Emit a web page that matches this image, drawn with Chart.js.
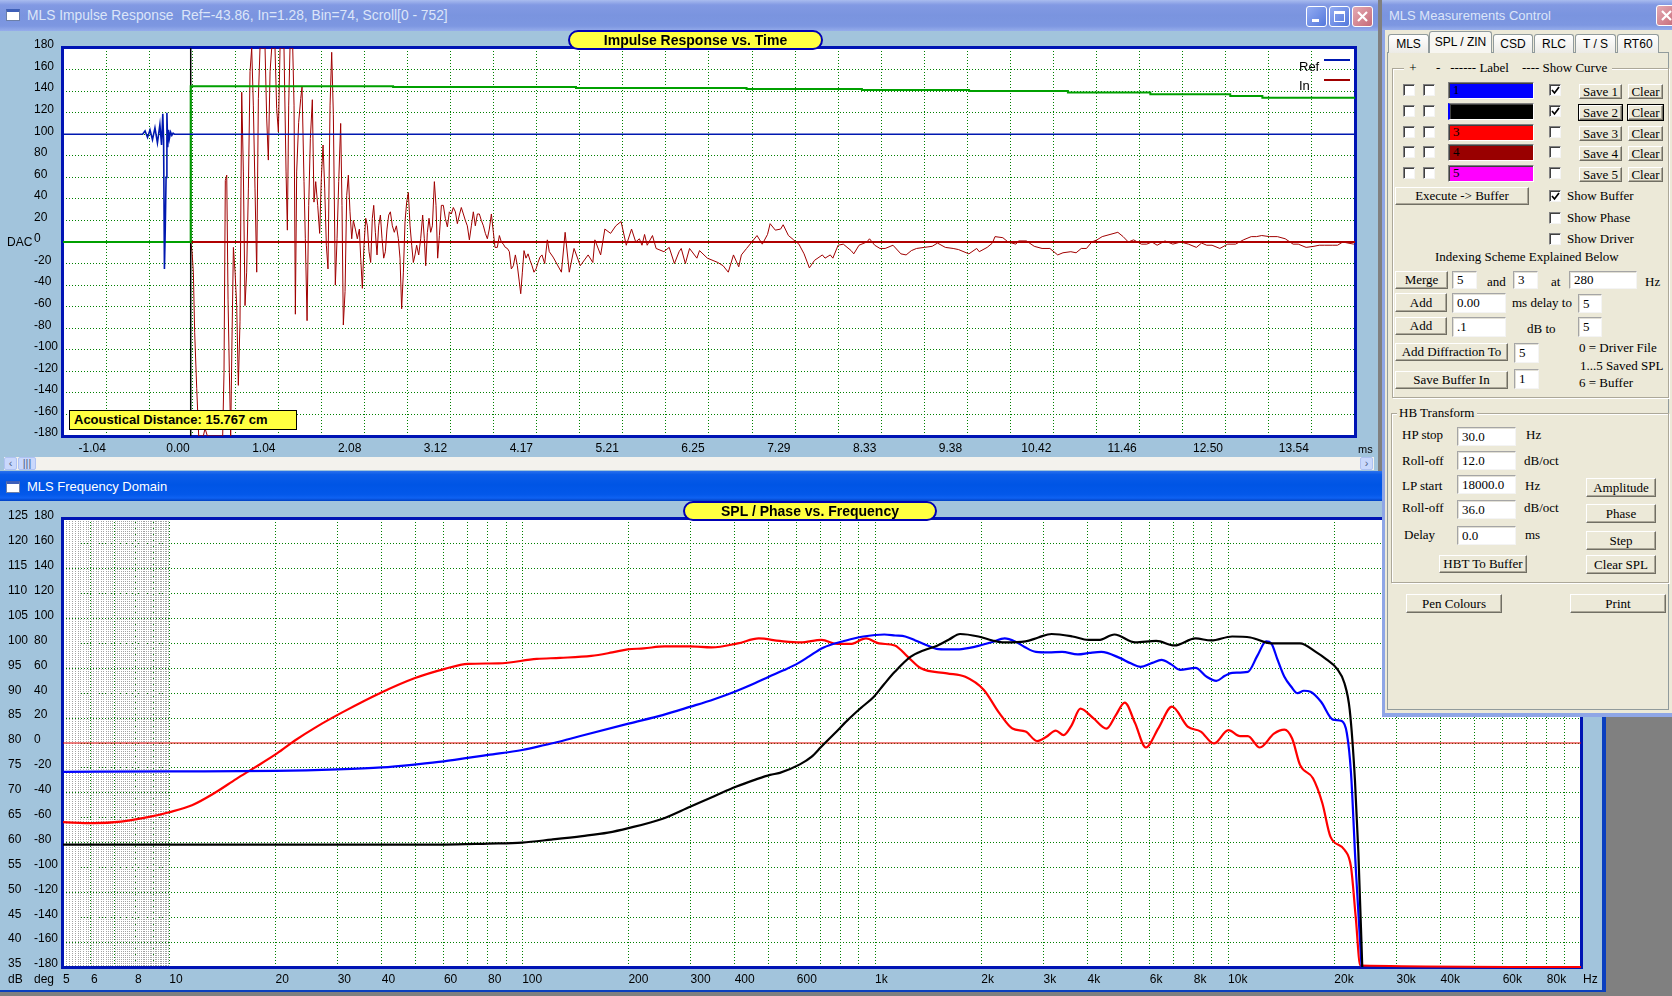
<!DOCTYPE html>
<html lang="en">
<head>
<meta charset="utf-8">
<title>MLS Impulse Response / Frequency Domain</title>
<script src="https://cdn.jsdelivr.net/npm/chart.js@4.4.0/dist/chart.umd.min.js"></script>
<style>
  html, body { margin: 0; padding: 0; }
  body { position: relative; width: 1672px; height: 996px; overflow: hidden; background: #808080;
         font-family: 'Liberation Sans', Arial, sans-serif; }
  .abs { position: absolute; }
  .win { position: absolute; background: #A2C4DC; }
  .cap { position: absolute; left: 0; right: 0; top: 0; height: 31px; }
  .cap.off { background: linear-gradient(#A9BCEF 0%, #8299E3 16%, #7A94DF 50%, #7D97E1 84%, #96ADEB 100%); }
  .cap.on { background: linear-gradient(#2B71EC 0%, #0A5BE8 12%, #0055E5 45%, #0358EA 78%, #0F62F2 90%, #0041C4 100%); }
  .cap .txt { position: absolute; left: 27px; top: 0; line-height: 31px; font-size: 13px; white-space: pre; }
  .cap.off .txt { color: #DCE5F9; }
  .cap.on .txt { color: #fff; }
  .wico { position: absolute; left: 6px; top: 9px; width: 14px; height: 12px; box-sizing: border-box; background: #fff;
          border: 1px solid #6C7FA8; border-top: 3px solid #3E5FB8; }
  .tbtn { position: absolute; top: 6px; width: 21px; height: 21px; box-sizing: border-box; border: 1px solid #fff;
          border-radius: 3px; background: linear-gradient(135deg, #93ACF2, #5478DC); }
  .tbtn.x { background: linear-gradient(135deg, #E4AAB3, #C66A78); }
  .tbtn svg { position: absolute; left: 0; top: 0; }
  .chip { position: absolute; box-sizing: border-box; height: 20px; border: 2px solid #0000B4; border-radius: 10px;
          background: #FFFF40; font-weight: bold; font-size: 14px; line-height: 16px; text-align: center; color: #000; white-space: nowrap; }
  .note { position: absolute; font-size: 12px; color: #000; white-space: nowrap; line-height: 14px; }
  .sbb { position: absolute; box-sizing: border-box; width: 13px; height: 13px; background: #C9D8FC; border: 1px solid #AFC2F2;
         border-radius: 2px; font-size: 11px; line-height: 10px; color: #4D6185; text-align: center; }
  canvas { position: absolute; }

  /* control panel */
  #panel { position: absolute; left: 1382px; top: 0; width: 290px; height: 717px; background: #ECE9D8; overflow: hidden; }
  #panel .t { position: absolute; font: 13px 'Liberation Serif', 'Times New Roman', serif; line-height: 16px; white-space: nowrap; color: #000; }
  #panel .t.hb { background: #ECE9D8; padding: 0 2px; }
  #panel .b { position: absolute; box-sizing: border-box; background: #ECE9D8; border: 1px solid;
              border-color: #FFFFFF #716F64 #716F64 #FFFFFF; box-shadow: inset -1px -1px 0 #ACA899;
              display: flex; align-items: center; justify-content: center;
              font: 13px 'Liberation Serif', 'Times New Roman', serif; white-space: nowrap; color: #000; }
  #panel .b.f { outline: 1px solid #000; }
  #panel .i { position: absolute; box-sizing: border-box; background: #fff; border: 1px solid;
              border-color: #A5A5A5 #F4F4F4 #F4F4F4 #A5A5A5; box-shadow: inset 1px 1px 0 #E2E0D6;
              display: flex; align-items: center; padding-left: 4px;
              font: 13px 'Liberation Serif', 'Times New Roman', serif; white-space: nowrap; }
  #panel .c { position: absolute; box-sizing: border-box; width: 12px; height: 12px; background: #fff; border: 1px solid;
              border-color: #808080 #F4F4F4 #F4F4F4 #808080; box-shadow: inset 1px 1px 0 #404040; }
  #panel .c svg { position: absolute; left: 1px; top: 1px; }
  #panel .sw { position: absolute; box-sizing: border-box; border: 1px solid; border-color: #808080 #fff #fff #808080;
               box-shadow: inset 1px 1px 0 #404040; font: 13px 'Liberation Serif', serif; line-height: 14px; padding-left: 4px; }
  #panel .g { position: absolute; box-sizing: border-box; border: 1px solid #ACA899; box-shadow: inset 1px 1px 0 #fff, 1px 1px 0 #fff; }
  #panel .tp { position: absolute; box-sizing: border-box; border: 1px solid #919B9C; background: #ECE9D8; }
  #panel .tab { position: absolute; box-sizing: border-box; height: 19px; border: 1px solid #919B9C; border-bottom: none;
                border-radius: 3px 3px 0 0; background: linear-gradient(#FFFFFF, #ECEBE6); font-size: 12px; line-height: 18px;
                text-align: center; color: #000; white-space: nowrap; }
  #panel .tab.sel { height: 22px; background: #F7F6F1; line-height: 20px; }
</style>
</head>
<body>

<!-- top window: MLS Impulse Response -->
<div class="win" style="left:0;top:0;width:1378px;height:471px;">
  <div class="cap off">
    <div class="wico"></div>
    <span class="txt" style="font-size:13.8px;">MLS Impulse Response  Ref=-43.86, In=1.28, Bin=74, Scroll[0 - 752]</span>
    <div class="tbtn" style="left:1306px;"><svg width="19" height="19"><rect x="5" y="12" width="7" height="3" fill="#fff"/></svg></div>
    <div class="tbtn" style="left:1329px;"><svg width="19" height="19"><rect x="4.5" y="4.5" width="10" height="10" fill="none" stroke="#fff"/><rect x="4" y="4" width="11" height="3" fill="#fff"/></svg></div>
    <div class="tbtn x" style="left:1352px;"><svg width="19" height="19"><path d="M5 5 L14 14 M14 5 L5 14" stroke="#fff" stroke-width="2.2"/></svg></div>
  </div>
  <div class="abs" style="left:4px;top:457px;width:1370px;height:13px;background:#F3F2ED;"></div>
  <div class="sbb" style="left:4px;top:457px;">&lsaquo;</div>
  <div class="sbb" style="left:18px;top:457px;width:18px;">|||</div>
  <div class="sbb" style="left:1360px;top:457px;">&rsaquo;</div>
</div>

<!-- bottom window: MLS Frequency Domain -->
<div class="win" style="left:0;top:471px;width:1606px;height:521px;">
  <div class="cap on" style="height:30px;">
    <div class="wico" style="top:10px;"></div>
    <span class="txt" style="line-height:32px;">MLS Frequency Domain</span>
  </div>
  <div class="abs" style="left:1602px;top:30px;width:4px;height:491px;background:#0A3FBF;"></div>
  <div class="abs" style="left:0;top:519px;width:1606px;height:2px;background:#0A3FBF;"></div>
</div>

<canvas id="irChart" width="1378" height="424" style="left:0;top:32px;"></canvas>
<canvas id="splChart" width="1600" height="487" style="left:0;top:505px;"></canvas>

<div class="chip" style="left:568px;top:30px;width:255px;">Impulse Response vs. Time</div>
<div class="chip" style="left:683px;top:501px;width:254px;">SPL / Phase vs. Frequency</div>

<div class="abs" style="left:69px;top:410px;width:228px;height:20px;box-sizing:border-box;border:1px solid #000;background:#FFFF40;
     font-weight:bold;font-size:13px;line-height:18px;padding-left:4px;white-space:nowrap;">Acoustical Distance: 15.767 cm</div>

<div class="note" style="left:1299px;top:60px;font-size:13px;">Ref</div>
<div class="abs" style="left:1324px;top:59px;width:26px;height:2px;background:#0018B0;"></div>
<div class="note" style="left:1299px;top:79px;font-size:13px;">In</div>
<div class="abs" style="left:1324px;top:79px;width:26px;height:2px;background:#A00000;"></div>

<div class="note" style="left:7px;top:235px;">DAC</div>
<div class="note" style="left:1358px;top:442px;font-size:11px;">ms</div>
<div class="note" style="left:8px;top:972px;">dB</div>
<div class="note" style="left:34px;top:972px;">deg</div>
<div class="note" style="left:1583px;top:972px;">Hz</div>

<!-- control panel -->
<div id="panel">
  <div class="cap off" style="height:30px;">
    <span class="txt" style="left:7px;line-height:32px;">MLS Measurements Control</span>
    <div class="tbtn x" style="left:274px;top:5px;"><svg width="19" height="19"><path d="M5 5 L14 14 M14 5 L5 14" stroke="#fff" stroke-width="2.2"/></svg></div>
  </div>
  <div class="abs" style="left:0;top:30px;width:3px;height:687px;background:#8FA6E6;"></div>
  <div class="abs" style="left:0;top:713px;width:290px;height:4px;background:#8FA6E6;"></div>
</div>

<script>
// ---------- impulse response (time domain) ----------
const impulseMs = [
  0.154, 0.170, 0.186, 0.202, 0.227, 0.251, 0.307, 0.328, 0.356, 0.542,
  0.558, 0.574, 0.591, 0.607, 0.623, 0.639, 0.655, 0.672, 0.692, 0.712,
  0.732, 0.752, 0.773, 0.793, 0.813, 0.833, 0.854, 0.874, 0.894, 0.914,
  0.934, 0.955, 0.975, 0.995, 1.056, 1.076, 1.096, 1.117, 1.137, 1.177,
  1.197, 1.218, 1.238, 1.286, 1.311, 1.327, 1.343, 1.359, 1.392, 1.408,
  1.424, 1.440, 1.464, 1.489, 1.505, 1.529, 1.545, 1.566, 1.586, 1.606,
  1.630, 1.650, 1.671, 1.695, 1.719, 1.739, 1.760, 1.780, 1.800, 1.820,
  1.845, 1.865, 1.885, 1.909, 1.930, 1.950, 1.974, 1.990, 2.006, 2.027,
  2.047, 2.067, 2.087, 2.108, 2.128, 2.152, 2.176, 2.201, 2.217, 2.237,
  2.257, 2.278, 2.298, 2.318, 2.338, 2.358, 2.375, 2.395, 2.415, 2.435,
  2.456, 2.476, 2.496, 2.516, 2.536, 2.557, 2.577, 2.601, 2.625, 2.650,
  2.674, 2.694, 2.714, 2.735, 2.755, 2.775, 2.795, 2.816, 2.836, 2.856,
  2.876, 2.896, 2.921, 2.945, 2.969, 2.989, 3.006, 3.026, 3.046, 3.066,
  3.087, 3.111, 3.131, 3.151, 3.172, 3.196, 3.220, 3.244, 3.269, 3.293,
  3.317, 3.341, 3.366, 3.390, 3.414, 3.438, 3.463, 3.487, 3.511, 3.536,
  3.560, 3.584, 3.608, 3.633, 3.657, 3.681, 3.706, 3.730, 3.754, 3.778,
  3.803, 3.827, 3.847, 3.875, 3.900, 3.924, 3.948, 3.972, 3.997, 4.021,
  4.045, 4.070, 4.094, 4.118, 4.142, 4.159, 4.179, 4.199, 4.223, 4.248,
  4.272, 4.296, 4.320, 4.345, 4.369, 4.393, 4.417, 4.450, 4.482, 4.506,
  4.552, 4.653, 4.698, 4.748, 4.806, 4.882, 4.977, 5.034, 5.059, 5.129,
  5.180, 5.250, 5.313, 5.377, 5.440, 5.504, 5.555, 5.599, 5.631, 5.662,
  5.694, 5.758, 5.802, 5.897, 5.961, 6.024, 6.081, 6.107, 6.157, 6.208,
  6.297, 6.329, 6.424, 6.551, 6.615, 6.678, 6.741, 6.805, 6.837, 6.900,
  6.964, 7.027, 7.091, 7.154, 7.186, 7.249, 7.313, 7.344, 7.408, 7.471,
  7.535, 7.598, 7.662, 7.725, 7.820, 7.852, 7.916, 7.947, 8.011, 8.074,
  8.169, 8.201, 8.265, 8.360, 8.392, 8.455, 8.519, 8.582, 8.677, 8.773,
  8.836, 8.900, 8.963, 9.058, 9.153, 9.217, 9.312, 9.407, 9.471, 9.598,
  9.693, 9.724, 9.820, 9.883, 9.915, 10.010, 10.074, 10.169, 10.200, 10.296,
  10.391, 10.486, 10.581, 10.676, 10.740, 10.835, 10.899, 10.962, 11.025, 11.089,
  11.153, 11.216, 11.311, 11.406, 11.470, 11.533, 11.597, 11.692, 11.756, 11.819,
  11.883, 11.978, 12.073, 12.168, 12.263, 12.359, 12.422, 12.485, 12.549, 12.644,
  12.739, 12.834, 12.930, 13.025, 13.088, 13.152, 13.247, 13.342, 13.437, 13.533,
  13.596, 13.691, 13.786, 13.850, 13.913, 14.008, 14.072, 14.135, 14.199, 14.270
];
const impulseDac = [
  0, -9, -28, -84, -136, -180, -180, -173, -180, -180,
  -121, 57, 62, -53, -121, -180, -90, -5, -28, -59,
  -133, -74, 139, 65, -59, -28, 50, 158, 180, 127,
  50, -28, 133, 180, 180, 115, 76, 158, 180, 180,
  124, 102, 180, 180, 65, 11, 127, 180, 180, 127,
  -67, 65, 111, 133, 144, 56, 3, -73, 34, 96,
  132, 37, 56, 34, 8, 59, 90, 50, -3, -25,
  127, 176, 118, -40, 3, 56, 110, 34, -77, -46,
  43, 62, 28, 3, 20, 12, 3, 12, -15, -43,
  -3, 22, 15, -9, -19, 22, 34, 9, -12, 15,
  25, 3, -15, -9, 12, 25, 28, 15, 9, 15,
  3, -15, -62, -28, 19, 37, 46, 15, -3, -19,
  -12, -3, -12, 3, 25, 3, -22, 9, 22, 9,
  15, 56, 34, -15, 6, 34, 34, 22, 14, 28,
  26, 32, 28, 17, 25, 32, 26, 20, 15, 2,
  15, 28, 15, 26, 26, 20, 15, 8, 3, 12,
  26, 9, -5, -5, 6, 0, -2, -5, -6, -9,
  -25, -22, -12, -22, -37, -48, -28, -8, -15, -11,
  -17, -22, -28, -25, -19, -14, -12, -20, 2, -9,
  -14, -28, 9, -28, -6, -22, -12, -19, 2, -12,
  12, 8, 15, 19, -3, 12, 0, 3, -3, 7,
  -3, 6, -6, -9, -5, -20, -9, -6, -20, -6,
  -15, -8, -15, -19, -22, -28, -12, -23, -12, -6,
  0, 6, -2, 7, 17, 11, 12, 16, 6, 2,
  -2, -11, -24, -17, -12, -15, -12, -15, -3, -2,
  -8, -11, -3, 0, 3, -3, -6, -6, -3, -11,
  -12, -8, -6, -5, -4, -1, -5, -6, -7, -11,
  -6, -9, -5, -1, 5, 4, 0, -2, 1, 1,
  -4, -6, -6, -12, -10, -9, -10, -6, -6, 0,
  2, 5, 7, 9, 5, 0, 2, -2, -2, 0,
  -3, 1, -2, 0, -2, -5, -1, -3, -3, -6,
  -2, -2, 2, 5, 5, 6, 5, 5, 3, -2,
  -2, -5, -4, -3, -3, -3, -3, 0, -1, -2
];
// reference (loopback) channel
const refMs  = [-1.396, -0.43, -0.40, -0.37, -0.34, -0.31, -0.28, -0.25, -0.22, -0.20, -0.185, -0.175, -0.165,
                -0.155, -0.145, -0.135, -0.125, -0.115, -0.105, -0.09, -0.075, -0.06, -0.045, 0.40, 14.284];
const refDac = [100, 100, 103, 97, 104, 95, 106, 92, 109, 90, 119, 95, -25,
                12, 60, 120, 88, 104, 96, 102, 99, 101, 100, 100, 100];
// green gate trace
const gateMs  = [-1.396, 0.154, 0.154, 2.61, 2.61, 4.83, 4.83, 6.9, 6.9, 8.3, 8.3,
                 9.6, 9.6, 10.8, 10.8, 11.8, 11.8, 12.77, 12.77, 13.16, 13.16, 14.284];
const gateDac = [0, 0, 144.6, 144.6, 143.7, 143.7, 142.8, 142.8, 141.9, 141.9, 141.0,
                 141.0, 140.0, 140.0, 138.7, 138.7, 137.2, 137.2, 135.5, 135.5, 133.9, 133.9];
const markerMs = 0.154;
const timeRange = [-1.396, 14.284];
const timeTickMs = [-1.0417, 0, 1.0417, 2.0833, 3.125, 4.1667, 5.2083, 6.25, 7.2917, 8.3333,
                    9.375, 10.4167, 11.4583, 12.5, 13.5417];
const timeTickLabels = ['-1.04', '0.00', '1.04', '2.08', '3.12', '4.17', '5.21', '6.25', '7.29', '8.33',
                        '9.38', '10.42', '11.46', '12.50', '13.54'];

// ---------- SPL vs frequency ----------
const blueHz = [5, 10, 20, 30, 40, 50, 60, 70, 80, 100,
  116, 128, 150, 200, 250, 300, 350, 400, 456, 500,
  550, 604, 650, 705, 760, 808, 870, 926, 1000, 1062,
  1140, 1217, 1300, 1395, 1493, 1600, 1711, 1850, 1962, 2150,
  2328, 2492, 2650, 2855, 3100, 3386, 3752, 4050, 4374, 4928,
  5300, 5648, 6100, 6477, 6900, 7300, 8087, 8700, 9268, 9800,
  10270, 11380, 12100, 12820, 13260, 13800, 14440, 15100, 15730, 16400,
  17120, 18340, 19830, 21000, 21700, 22300, 23000, 23900];
const blueDb = [74.2, 74.3, 74.4, 74.7, 75.1, 75.7, 76.3, 77.0, 77.6, 78.6,
  79.6, 80.3, 81.6, 83.9, 85.6, 87.3, 88.8, 90.3, 92.0, 93.3,
  94.6, 96.0, 97.4, 99.0, 99.9, 100.4, 101.0, 101.4, 101.7, 101.8,
  101.6, 101.4, 100.6, 99.7, 98.9, 98.8, 98.8, 99.1, 99.5, 100.3,
  101.0, 100.4, 99.3, 98.3, 98.2, 98.3, 97.8, 98.1, 98.3, 97.1,
  96.0, 95.3, 96.1, 96.7, 95.8, 94.7, 95.1, 93.3, 92.5, 93.5,
  94.1, 94.3, 97.5, 100.4, 100.0, 96.8, 93.3, 91.3, 90.0, 90.5,
  90.3, 88.3, 84.7, 84.4, 82.0, 74.0, 55.0, 35.0];
const blackHz = [5, 60, 80, 100, 121, 148, 175, 200, 250, 299,
  350, 403, 460, 504, 537, 612, 660, 705, 770, 836,
  910, 992, 1060, 1137, 1259, 1370, 1493, 1620, 1741, 1962,
  2150, 2328, 2668, 2900, 3162, 3625, 4017, 4301, 4765, 5461,
  6259, 7052, 8087, 8955, 10270, 11570, 13260, 15990, 17720, 19000,
  20310, 21370, 22120, 22880, 23400, 24000];
const blackDb = [59.6, 59.6, 59.8, 60.0, 60.6, 61.3, 62.0, 62.9, 64.8, 67.2,
  69.3, 71.2, 72.7, 73.6, 74.0, 75.7, 77.2, 79.3, 82.0, 84.6,
  87.0, 89.3, 91.8, 94.3, 97.3, 98.6, 99.5, 100.8, 101.9, 101.4,
  100.6, 100.2, 100.4, 101.2, 101.9, 101.4, 100.7, 100.7, 101.8, 100.2,
  100.5, 99.6, 101.0, 100.6, 101.4, 101.2, 100.0, 100.0, 98.3, 96.8,
  95.0, 92.0, 86.6, 72.6, 58.0, 35.0];
const redHz = [5, 6.1, 7.3, 8.7, 10, 11.6, 13.4, 15.5, 17.4, 20.2,
  22.7, 26.2, 31.2, 39.5, 49.5, 60.4, 70.2, 85.7, 110, 128,
  157, 180, 199, 221, 253, 300, 344, 408, 468, 537,
  615, 705, 781, 851, 942, 1025, 1137, 1238, 1348, 1599,
  1801, 2030, 2249, 2449, 2668, 2876, 3050, 3251, 3421, 3600,
  3815, 4150, 4524, 4800, 5097, 5450, 5846, 6350, 6935, 7683,
  8370, 9115, 10024, 10810, 11380, 12300, 13490, 14440, 15190, 15990,
  17400, 18500, 19500, 21400, 22300, 23000, 23700, 100000];
const redDb = [64.1, 63.9, 64.2, 65.1, 66.1, 67.5, 69.9, 72.8, 75.0, 77.9,
  80.5, 83.3, 86.3, 90.0, 93.0, 94.9, 95.9, 96.0, 96.9, 97.1,
  97.5, 98.2, 98.8, 99.0, 99.4, 99.4, 99.2, 100.0, 101.0, 100.5,
  100.2, 100.7, 99.9, 99.9, 101.0, 100.0, 99.6, 97.3, 95.0, 94.0,
  93.3, 90.7, 86.0, 82.9, 82.3, 80.4, 81.2, 82.5, 81.6, 83.5,
  86.9, 85.0, 82.9, 85.5, 88.1, 84.0, 79.1, 83.0, 87.3, 83.3,
  82.3, 79.9, 82.6, 81.4, 81.4, 79.1, 81.9, 82.7, 80.9, 75.6,
  72.9, 67.9, 61.2, 58.5, 55.1, 45.0, 35.3, 35.0];
const phaseZeroDb = 80;          // 0 deg sits on the 80 dB line
const freqRange = [5, 100000];
const freqLabelHz = [5, 6, 8, 10, 20, 30, 40, 60, 80, 100, 200, 300, 400, 600,
  1000, 2000, 3000, 4000, 6000, 8000, 10000, 20000, 30000, 40000, 60000, 80000];
const freqLabelText = ['5', '6', '8', '10', '20', '30', '40', '60', '80', '100', '200', '300', '400', '600',
  '1k', '2k', '3k', '4k', '6k', '8k', '10k', '20k', '30k', '40k', '60k', '80k'];

// ---------- drawing ----------
Chart.defaults.font.family = "'Liberation Sans', Arial, sans-serif";
Chart.defaults.font.size = 12;
Chart.defaults.color = '#000';
Chart.defaults.animation = false;

const GRID_GREEN = '#008000';
const DOTS = [1, 2];

function pairs(xs, ys) {
  return xs.map((x, i) => ({ x: x, y: ys[i] }));
}

// white plot face, blue frame, and the fine low-frequency hatching
const plotFrame = {
  id: 'plotFrame',
  beforeDraw(chart) {
    const a = chart.chartArea, ctx = chart.ctx;
    ctx.save();
    ctx.fillStyle = '#fff';
    ctx.fillRect(a.left, a.top, a.right - a.left, a.bottom - a.top);
    ctx.restore();
  },
  beforeDatasetsDraw(chart, args, opts) {
    const a = chart.chartArea, ctx = chart.ctx;
    ctx.save();
    if (opts.fine) {
      const xs = chart.scales.x;
      ctx.strokeStyle = '#a4a4a4';
      ctx.lineWidth = 1;
      ctx.setLineDash([1, 1]);
      for (let f = 5.1; f < 9.95; f += 0.1) {
        const px = Math.round(xs.getPixelForValue(f)) + 0.5;
        ctx.beginPath();
        ctx.moveTo(px, a.top);
        ctx.lineTo(px, a.bottom);
        ctx.stroke();
      }
    }
    ctx.setLineDash([]);
    ctx.strokeStyle = '#0014B4';
    ctx.lineWidth = 3;
    ctx.strokeRect(a.left - 0.5, a.top - 0.5, a.right - a.left + 1, a.bottom - a.top + 1);
    ctx.restore();
  }
};

new Chart(document.getElementById('irChart'), {
  type: 'line',
  data: {
    datasets: [
      { label: 'Ref', data: pairs(refMs, refDac), borderColor: '#0018B0', borderWidth: 1.6 },
      { label: 'Gate', data: pairs(gateMs, gateDac), borderColor: '#00A000', borderWidth: 2 },
      { label: 'Marker', data: [{ x: markerMs, y: -180 }, { x: markerMs, y: 180 }], borderColor: '#000', borderWidth: 1.5 },
      { label: 'Zero', data: [{ x: markerMs, y: 0 }, { x: timeRange[1], y: 0 }], borderColor: '#B00000', borderWidth: 2 },
      { label: 'In', data: pairs(impulseMs, impulseDac), borderColor: '#A00000', borderWidth: 1 }
    ]
  },
  options: {
    responsive: false,
    elements: { point: { radius: 0 }, line: { tension: 0 } },
    layout: { autoPadding: false, padding: { left: 34, top: 16, right: 23, bottom: 0 } },
    plugins: { legend: { display: false }, tooltip: { enabled: false }, plotFrame: { fine: false } },
    scales: {
      x: {
        type: 'linear', position: 'bottom', min: timeRange[0], max: timeRange[1],
        grid: { display: false, drawTicks: false }, border: { display: false },
        ticks: { autoSkip: false, maxRotation: 0, padding: 5, callback: (v, i) => timeTickLabels[i] },
        afterBuildTicks: s => { s.ticks = timeTickMs.map(v => ({ value: v })); },
        afterFit: s => { s.height = 20; }
      },
      xg: {
        type: 'linear', position: 'bottom', min: timeRange[0], max: timeRange[1],
        ticks: { display: false },
        grid: { color: GRID_GREEN, drawTicks: false },
        border: { display: false, dash: DOTS },
        afterBuildTicks: s => {
          const step = (s.max - s.min) / 30;
          s.ticks = [];
          for (let k = 1; k < 30; k++) s.ticks.push({ value: s.min + k * step });
        },
        afterFit: s => { s.height = 0; }
      },
      y: {
        min: -180, max: 180,
        ticks: { stepSize: 20, crossAlign: 'far', labelOffset: -3 },
        grid: { color: GRID_GREEN, drawTicks: false },
        border: { display: false, dash: DOTS },
        afterFit: s => { s.width = 29; }
      }
    }
  },
  plugins: [plotFrame]
});

new Chart(document.getElementById('splChart'), {
  type: 'line',
  data: {
    datasets: [
      { label: 'Save 2', data: pairs(blackHz, blackDb), borderColor: '#000000', borderWidth: 2.2, cubicInterpolationMode: 'monotone' },
      { label: 'Save 1', data: pairs(blueHz, blueDb), borderColor: '#0000FF', borderWidth: 2.2, cubicInterpolationMode: 'monotone' },
      { label: 'Buffer', data: pairs(redHz, redDb), borderColor: '#FF0000', borderWidth: 2.2, cubicInterpolationMode: 'monotone', clip: false },
      { label: '0 deg', data: [{ x: freqRange[0], y: phaseZeroDb }, { x: freqRange[1], y: phaseZeroDb }], borderColor: '#E00000', borderWidth: 1 }
    ]
  },
  options: {
    responsive: false,
    elements: { point: { radius: 0 }, line: { tension: 0 } },
    layout: { autoPadding: false, padding: { left: 8, top: 14, right: 19, bottom: 0 } },
    plugins: { legend: { display: false }, tooltip: { enabled: false }, plotFrame: { fine: true } },
    scales: {
      x: {
        type: 'logarithmic', position: 'bottom', min: freqRange[0], max: freqRange[1],
        grid: { color: GRID_GREEN, drawTicks: false },
        border: { display: false, dash: DOTS },
        ticks: {
          autoSkip: false, maxRotation: 0, padding: 5, align: 'start',
          callback: v => { const i = freqLabelHz.indexOf(v); return i >= 0 ? freqLabelText[i] : ''; }
        },
        afterBuildTicks: s => {
          const ticks = [];
          for (let d = 0; d <= 5; d++) {
            for (let m = 1; m <= 9; m++) {
              const v = m * Math.pow(10, d);
              if (v >= 5 && v < 100000) ticks.push({ value: v });
            }
          }
          s.ticks = ticks;
        },
        afterFit: s => { s.height = 25; }
      },
      y: {
        position: 'left', weight: 2, min: 35, max: 125,
        ticks: { stepSize: 5, crossAlign: 'far', labelOffset: -3 },
        grid: { color: GRID_GREEN, drawTicks: false },
        border: { display: false, dash: DOTS },
        afterFit: s => { s.width = 26; }
      },
      y2: {
        position: 'left', weight: 1, min: -180, max: 180,
        ticks: { stepSize: 20, crossAlign: 'far', labelOffset: -3 },
        grid: { display: false }, border: { display: false },
        afterFit: s => { s.width = 29; }
      }
    }
  },
  plugins: [plotFrame]
});

// ---------- control panel widgets ----------
const panel = document.getElementById('panel');
const TICK = '<svg width="9" height="9"><polyline points="1,4 3.5,7 8,1" fill="none" stroke="#000" stroke-width="1.7"/></svg>';

function put(cls, x, y, w, h, html) {
  const d = document.createElement('div');
  d.className = cls;
  d.style.left = x + 'px';
  d.style.top = y + 'px';
  if (w) d.style.width = w + 'px';
  if (h) d.style.height = h + 'px';
  if (html !== undefined) d.innerHTML = html;
  panel.appendChild(d);
  return d;
}
const label = (x, cy, text, cls) => put('t' + (cls ? ' ' + cls : ''), x, cy - 8, 0, 0, text);
const button = (x, y, w, h, text, cls) => put('b' + (cls ? ' ' + cls : ''), x, y, w, h, text);
const field = (x, y, w, h, text) => put('i', x, y, w, h, text);
const check = (x, y, on) => put('c', x, y, 0, 0, on ? TICK : '');

put('tp', 5, 52, 282, 658);
[['MLS', 6, 41], ['CSD', 111, 40], ['RLC', 152, 40], ['T / S', 193, 41], ['RT60', 235, 42]]
  .forEach(t => put('tab', t[1], 34, t[2], 0, t[0]));
put('tab sel', 47, 31, 63, 0, 'SPL / ZIN');

// curve slots
put('g', 10, 68, 277, 330);
label(22, 68, '&nbsp;+&nbsp;&nbsp;&nbsp;&nbsp;&nbsp;&nbsp;-&nbsp;&nbsp;&nbsp;------ Label&nbsp;&nbsp;&nbsp;&nbsp;---- Show Curve&nbsp;', 'hb');
const slotY = [90, 111, 132, 152, 173];
const slotColor = ['#0000FF', '#000000', '#FF0000', '#990000', '#FF00FF'];
const slotText = ['1', '', '3', '4', '5'];
const slotShown = [true, true, false, false, false];
slotY.forEach((cy, i) => {
  check(21, cy - 6, false);
  check(41, cy - 6, false);
  const sw = put('sw', 66, cy - 8, 86, 17, slotText[i]);
  sw.style.background = slotColor[i];
  if (i === 1) sw.style.borderLeft = '2px solid #0000FF';
  check(167, cy - 6, slotShown[i]);
  button(197, cy - 6, 43, 15, 'Save ' + (i + 1), i === 1 ? 'f' : '');
  button(246, cy - 6, 35, 15, 'Clear', i === 1 ? 'f' : '');
});
button(13, 187, 134, 18, 'Execute -&gt; Buffer');
check(167, 190, true);  label(185, 196, 'Show Buffer');
check(167, 212, false); label(185, 218, 'Show Phase');
check(167, 233, false); label(185, 239, 'Show Driver');
label(53, 257, 'Indexing Scheme Explained Below');
button(13, 271, 53, 18, 'Merge'); field(70, 271, 25, 18, '5'); label(105, 282, 'and');
field(131, 271, 25, 18, '3'); label(169, 282, 'at'); field(187, 271, 68, 18, '280'); label(263, 282, 'Hz');
button(13, 293, 52, 19, 'Add'); field(70, 293, 54, 20, '0.00'); label(130, 303, 'ms delay to'); field(196, 294, 24, 19, '5');
button(13, 317, 52, 18, 'Add'); field(70, 317, 54, 20, '.1'); label(145, 329, 'dB to'); field(196, 317, 24, 20, '5');
button(13, 343, 113, 18, 'Add Diffraction To'); field(132, 343, 25, 20, '5');
button(13, 371, 113, 18, 'Save Buffer In'); field(132, 369, 25, 20, '1');
label(197, 348, '0 = Driver File');
label(198, 366, '1...5 Saved SPL');
label(197, 383, '6 = Buffer');

// HB transform
put('g', 9, 413, 278, 170);
label(15, 413, 'HB Transform', 'hb');
label(20, 435, 'HP stop');  field(75, 427, 59, 19, '30.0');    label(144, 435, 'Hz');
label(20, 461, 'Roll-off'); field(75, 451, 59, 19, '12.0');    label(142, 461, 'dB/oct');
label(20, 486, 'LP start'); field(75, 475, 59, 19, '18000.0'); label(143, 486, 'Hz');
label(20, 508, 'Roll-off'); field(75, 500, 59, 19, '36.0');    label(142, 508, 'dB/oct');
label(22, 535, 'Delay');    field(75, 526, 59, 19, '0.0');     label(143, 535, 'ms');
button(57, 555, 88, 18, 'HBT To Buffer');
button(204, 478, 70, 19, 'Amplitude');
button(204, 504, 70, 19, 'Phase');
button(204, 531, 70, 19, 'Step');
button(204, 555, 70, 19, 'Clear SPL');
button(24, 594, 96, 19, 'Pen Colours');
button(188, 594, 96, 19, 'Print');
</script>
</body>
</html>
